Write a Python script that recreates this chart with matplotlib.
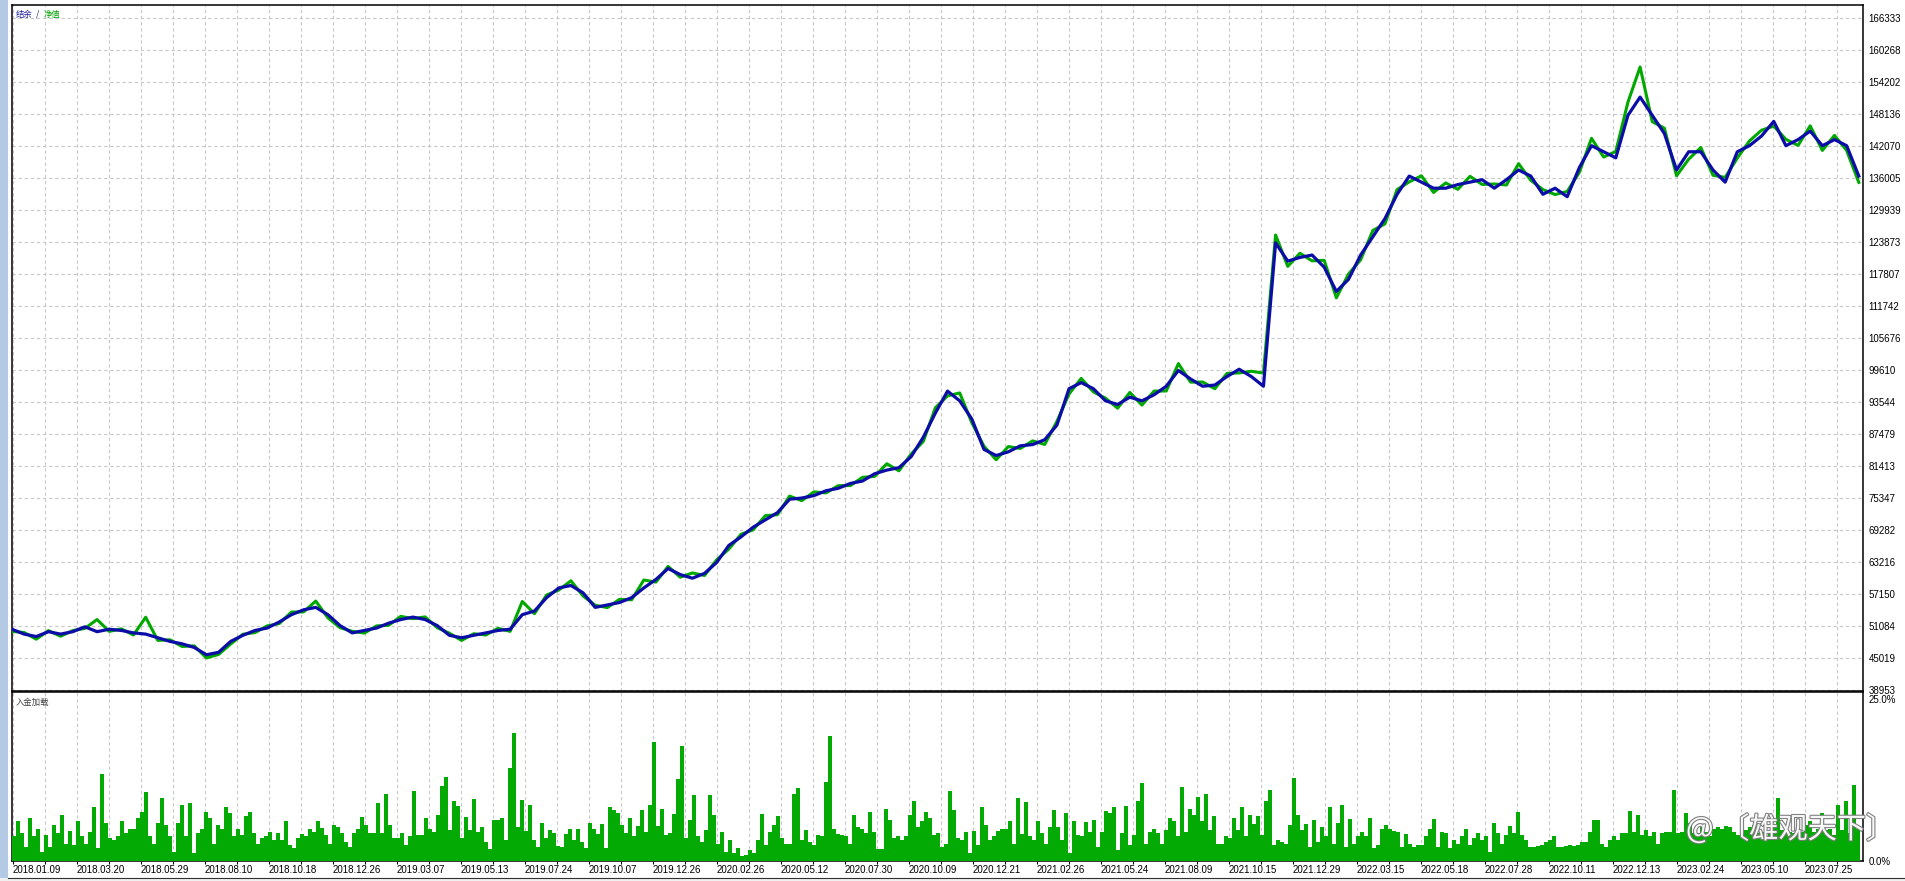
import matplotlib.pyplot as plt
import matplotlib.patheffects as pe
from matplotlib.patches import Rectangle
import numpy as np

W, H = 1905, 881

# balance, left to right, evenly spaced
balance = [50468, 49547, 49086, 50007, 49547, 50007, 50929, 50007, 50468, 50238,
           49777, 49547, 48856, 48165, 47704, 47014, 45632, 46092, 48165, 49317,
           50238, 50698, 51850, 53232, 54153, 54613, 53232, 51159, 49777, 50238,
           50698, 51620, 52310, 52771, 52310, 51159, 49317, 48856, 49317, 49777,
           50238, 50468, 53232, 53923, 56456, 58298, 58759, 57377, 54613, 55074,
           55535, 56456, 58298, 59910, 61983, 60832, 60141, 61062, 63135, 66359,
           67971, 69813, 71195, 72577, 75110, 75340, 75801, 76722, 77183, 78104,
           78565, 79946, 80637, 81098, 83171, 86855, 91461, 95607, 93764, 90310,
           84552, 83401, 84092, 85243, 85474, 86395, 89158, 96067, 97219, 96067,
           93764, 93074, 94455, 93764, 94916, 96528, 99522, 97910, 96528, 96758,
           98370, 99752, 98370, 96528, 123703, 120249, 120940, 121400, 119097, 114491,
           116794, 121400, 124855, 128309, 132915, 136370, 135218, 134067, 134067, 134758,
           135218, 135679, 134067, 135679, 137521, 136370, 132915, 134067, 132455, 137982,
           142127, 140976, 139824, 147885, 151339, 147885, 144430, 137521, 140976, 140976,
           137521, 135218, 140976, 142127, 143970, 146733, 142127, 143279, 144891, 142127,
           143279, 142127, 136370]

# equity minus balance at the same points
equity_gap = [-400, 300, -500, 200, -400, 200, -300, 2300, -400, 300,
              -400, 3200, -500, 300, -500, 300, -600, -400, -500, 200,
              -400, 400, -300, 500, -400, 1200, -600, -400, 300, -500,
              400, -400, 600, -300, 500, -400, 400, -500, 300, -400,
              400, -400, 2500, -500, 500, -400, 900, -600, 400, -500,
              600, -400, 1500, -500, 400, -500, 1000, -400, 500, -700,
              500, -500, 800, -400, 600, -500, 700, -400, 500, -400,
              700, -500, 1200, -600, 500, -800, 1000, -900, 1500, -700,
              600, -800, 1000, -500, 700, -900, 700, -1000, 800, -600,
              500, -700, 900, -800, 700, -900, 1300, -600, 800, -700,
              600, -700, 1000, 2500, 1500, -1000, 800, -1100, 1300, -1200,
              1000, -900, 1200, -1000, 900, -1100, 1200, -800, 1000, -900,
              1100, -900, 800, -1000, 1200, -800, 900, -1200, 1000, -900,
              1400, -1000, 1200, 2500, 5700, -1200, 1000, -1100, -1400, 800,
              -1000, 900, -1200, 900, 1100, -900, 1200, -1100, 1000, -900,
              800, -900, -1200]

# deposit load in %, one bar per ~4 px
load_a = [3.8, 6.2, 4.3, 2.2, 6.6, 3.8, 5.0, 1.4, 4.0, 2.2, 5.5, 4.3, 7.1, 2.7, 4.6, 2.5, 6.2, 3.8, 2.7, 4.4,
          8.3, 2.0, 13.5, 5.8, 3.5, 3.2, 3.8, 6.2, 4.3, 4.9, 5.0, 6.7, 7.6, 10.6, 3.8, 2.6, 5.9, 9.7, 5.5, 3.8,
          1.4, 5.8, 8.6, 3.8, 8.9, 1.2, 4.3, 5.0, 7.6, 6.7, 2.7, 5.5, 5.0, 8.3, 7.4, 3.8, 5.0, 4.0, 6.9, 7.6,
          4.3, 2.7, 3.6, 3.8, 4.5, 3.2, 4.3, 3.2, 6.1, 2.5, 2.0, 3.5, 4.1, 3.9, 5.0, 4.5, 6.2, 5.1, 4.0, 2.7,
          5.5, 5.3, 4.3, 3.0, 2.2, 4.3, 5.0, 6.8, 5.6, 4.3, 4.3, 8.9, 4.3, 10.3, 5.6, 3.5, 3.5, 4.3, 2.5, 3.9,
          10.8, 4.0, 4.0, 6.6, 5.0, 4.5, 7.1, 11.6, 12.9, 4.8, 9.2, 8.5, 3.5, 6.8, 4.8, 9.6]
load_b = [4.5, 5.2, 3.0, 1.9, 6.3, 6.3, 6.7, 3.2, 14.3, 19.7, 5.3, 9.4, 4.6, 8.6, 3.2, 2.2, 5.8, 3.5, 4.8, 4.3,
          2.3, 2.2, 4.2, 5.0, 3.2, 5.0, 2.9, 2.0, 5.8, 4.9, 4.2, 5.7, 2.0, 8.3, 7.9, 7.4, 5.6, 4.3, 6.6, 3.8,
          5.4, 7.9, 4.5, 8.6, 18.3, 5.4, 8.1, 4.0, 4.3, 7.3, 12.6, 17.7, 3.5, 6.3, 10.2, 3.8, 3.0, 4.8, 10.2, 7.1,
          2.6, 4.4, 1.4, 3.2, 1.2, 2.0, 0.7, 1.0, 1.7, 1.3, 3.2, 7.3, 2.4, 4.4, 5.6, 6.9, 3.6, 2.7, 2.6, 10.4,
          11.2, 3.2, 4.8, 3.0, 2.5, 4.0, 3.8, 12.2, 19.3, 5.0, 4.1, 4.0, 3.8, 2.7, 7.1, 5.3, 5.0, 4.3, 7.6, 4.5,
          1.9, 1.9, 8.1, 6.3, 3.5, 3.8, 3.3, 3.8, 7.1, 9.2, 5.3, 6.1, 7.5, 6.7, 4.0]
load_c = [4.3, 2.2, 2.7, 10.8, 7.9, 3.5, 3.2, 4.4, 1.2, 4.6, 2.5, 8.3, 5.6, 3.2, 3.9, 4.6, 5.0, 5.0, 6.2, 2.6,
          9.7, 4.2, 9.1, 3.8, 3.3, 6.2, 4.3, 2.7, 5.2, 7.9, 5.2, 3.2, 7.4, 1.2, 6.1, 4.0, 3.9, 6.0, 4.4, 6.3,
          2.2, 4.4, 7.7, 7.4, 8.3, 1.7, 4.3, 8.5, 2.5, 4.0, 9.2, 12.0, 2.7, 4.5, 5.0, 4.3, 2.6, 4.8, 6.7, 6.1,
          3.9, 11.4, 4.5, 8.1, 7.1, 9.8, 6.1, 10.3, 4.8, 6.9, 2.7, 2.6, 3.8, 3.5, 6.7, 4.8, 8.3, 3.8, 7.1, 5.7,
          6.9, 4.0, 9.2, 11.0, 2.5, 3.2, 3.0, 2.7, 5.6, 12.8, 7.1, 4.8, 5.7, 2.2, 6.3, 3.0, 5.3, 3.8, 8.3, 2.7,
          5.8, 8.6, 2.2, 6.5, 2.6, 3.9, 4.4, 3.8, 6.7, 2.0, 2.5, 4.9, 5.6, 5.0, 4.6]
load_d = [4.5, 2.2, 4.1, 2.7, 2.2, 2.4, 2.5, 3.8, 5.0, 6.5, 2.2, 4.5, 4.3, 2.0, 3.3, 2.7, 3.8, 5.0, 2.5, 3.5,
          4.3, 3.2, 3.8, 1.4, 5.8, 4.3, 2.7, 4.0, 5.4, 4.3, 7.5, 4.0, 3.2, 2.2, 2.2, 2.3, 2.5, 3.0, 3.2, 3.8,
          2.2, 2.2, 2.3, 2.5, 2.3, 2.4, 3.0, 3.0, 4.5, 6.3, 6.3, 2.7, 2.2, 3.2, 3.8, 3.2, 4.3, 4.3, 7.7, 4.5,
          7.1, 4.0, 4.8, 3.8, 4.5, 2.7, 4.3, 4.5, 4.5, 11.0, 4.3, 4.5, 7.4, 5.8, 4.3, 4.3, 5.3, 4.5, 3.8, 5.0,
          5.3, 5.0, 5.4, 5.3, 4.5, 4.0, 4.3, 4.8, 5.3, 5.6, 4.3, 4.5, 3.8, 4.5, 5.3, 9.7, 4.8, 5.3, 4.5, 4.3,
          5.0, 4.5, 5.6, 6.1, 4.5, 5.0, 7.4, 4.8, 5.0, 4.0, 8.6, 4.8, 9.3, 4.3, 11.8, 5.0]

y_labels = ['38953', '45019', '51084', '57150', '63216', '69282', '75347', '81413', '87479', '93544',
            '99610', '105676', '111742', '117807', '123873', '129939', '136005', '142070', '148136',
            '154202', '160268', '166333']
date_labels = ['2018.01.09', '2018.03.20', '2018.05.29', '2018.08.10', '2018.10.18', '2018.12.26',
               '2019.03.07', '2019.05.13', '2019.07.24', '2019.10.07', '2019.12.26', '2020.02.26',
               '2020.05.12', '2020.07.30', '2020.10.09', '2020.12.21', '2021.02.26', '2021.05.24',
               '2021.08.09', '2021.10.15', '2021.12.29', '2022.03.15', '2022.05.18', '2022.07.28',
               '2022.10.11', '2022.12.13', '2023.02.24', '2023.05.10', '2023.07.25']

load = load_a + load_b + load_c + load_d
n_bars = len(load)
x_end = 462.75
bal = np.array(balance, dtype=float)
eq = bal + np.array(equity_gap)
x_line = np.linspace(0, n_bars - 0.3, len(bal))

grid_x = 0.25 + 8 * np.arange(58)
xlabels = [date_labels[k // 2] if k % 2 == 0 else '' for k in range(len(grid_x))]

fig = plt.figure(figsize=(W / 100, H / 100), dpi=100)
fig.patch.set_facecolor('white')
cjk = ['Noto Sans CJK SC', 'DejaVu Sans']
tick_font = 'Liberation Sans'
grid_kw = dict(color='#c8c8c8', linestyle=(0, (3, 2.5)), linewidth=0.8)

ax1 = fig.add_axes([12 / W, 1 - 691 / H, 1851 / W, 686 / H])
ax2 = fig.add_axes([12 / W, 1 - 861 / H, 1851 / W, 169 / H])

# balance / equity panel
ax1.plot(x_line, eq, color='#00a800', linewidth=2.2, zorder=3)
ax1.plot(x_line, bal, color='#0c0ca8', linewidth=2.3, zorder=4)
ax1.set_xlim(0, x_end)
ax1.set_ylim(38763, 168795)
ax1.set_xticks(grid_x)
ax1.set_xticklabels([])
ax1.set_yticks([int(s) for s in y_labels])
ax1.set_yticklabels(y_labels, fontsize=7, family=tick_font)
ax1.yaxis.tick_right()
ax1.tick_params(axis='x', length=0)
ax1.tick_params(axis='y', length=0, pad=4)
ax1.grid(True, **grid_kw)
ax1.set_axisbelow(True)

# deposit load panel
ax2.bar(np.arange(n_bars) + 0.5, load, width=1.0, color='#04aa04', linewidth=0, zorder=3)
ax2.set_xlim(0, x_end)
ax2.set_ylim(0, 26.08)
ax2.set_xticks(grid_x)
ax2.set_xticklabels(xlabels, fontsize=7, family=tick_font)
for lbl in ax2.get_xticklabels():
    lbl.set_horizontalalignment('left')
ax2.set_yticks([0, 25])
ax2.set_yticklabels(['0.0%', '25.0%'], fontsize=7, family=tick_font)
ax2.yaxis.tick_right()
ax2.tick_params(axis='x', direction='out', length=2.2, width=0.8, pad=0.5)
ax2.tick_params(axis='y', length=0, pad=4)
ax2.grid(True, axis='x', **grid_kw)
ax2.set_axisbelow(True)

for ax in (ax1, ax2):
    for sp in ax.spines.values():
        sp.set_linewidth(1.1)
        sp.set_color('black')

# panel captions
fig.text(16 / W, 1 - 14 / H, '结余', color='#1c1ca0', fontsize=6, family=cjk, va='center')
fig.text(36 / W, 1 - 14 / H, '/', color='#202060', fontsize=6, family=cjk, va='center')
fig.text(44 / W, 1 - 14 / H, '净值', color='#00a000', fontsize=6, family=cjk, va='center')
fig.text(16 / W, 1 - 702 / H, '入金加载', color='#404040', fontsize=6, family=cjk, va='center')

# window chrome: left side bar and bottom tab strip
fig.patches.append(Rectangle((0, 0), 8 / W, 1, transform=fig.transFigure,
                             facecolor='#b4c9e3', edgecolor='none'))
fig.patches.append(Rectangle((0, 0), 1, 3 / H, transform=fig.transFigure,
                             facecolor='#f0f0f0', edgecolor='none'))
fig.add_artist(plt.Line2D([8 / W, 1], [3 / H, 3 / H], transform=fig.transFigure,
                          color='#303030', linewidth=0.8))

# watermark
fig.text(1686 / W, 1 - 830 / H, '@ 〔雄观天下〕', color='white', fontsize=21, family=cjk,
         va='center', alpha=0.95,
         path_effects=[pe.withStroke(linewidth=1.6, foreground='#7a7a7a')])

fig.savefig('out.png', dpi=100)
